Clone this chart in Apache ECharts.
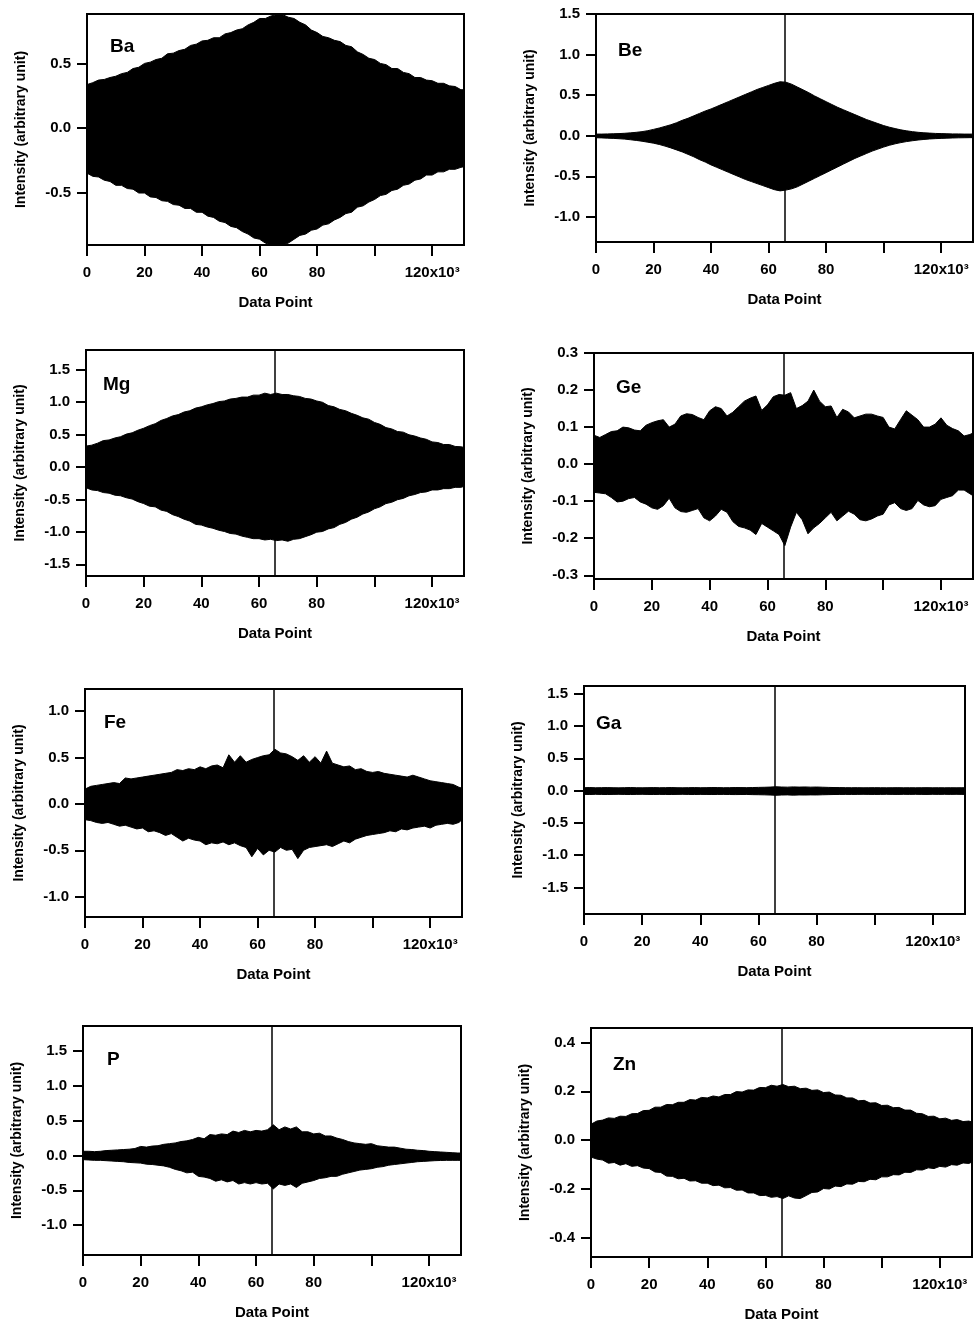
<!DOCTYPE html>
<html>
<head>
<meta charset="utf-8">
<script src="https://cdn.jsdelivr.net/npm/echarts@6/dist/echarts.min.js"></script>
<style>
  html, body { margin: 0; padding: 0; background: #fff; }
  #main { width: 979px; height: 1327px; }
</style>
</head>
<body>
<div id="main"></div>
<script>
// x positions of the envelope samples, in thousands of data points
var dataPointK = [0, 2, 4, 6, 8, 10, 12, 14, 16, 18,
  20, 22, 24, 26, 28, 30, 32, 34, 36, 38,
  40, 42, 44, 46, 48, 50, 52, 54, 56, 58,
  60, 62, 64, 66, 68, 70, 72, 74, 76, 78,
  80, 82, 84, 86, 88, 90, 92, 94, 96, 98,
  100, 102, 104, 106, 108, 110, 112, 114, 116, 118,
  120, 122, 124, 126, 128, 130, 131.072];

var elements = ['Ba', 'Be', 'Mg', 'Ge', 'Fe', 'Ga', 'P', 'Zn'];
var centerBurst = 65536;

// upper / lower envelope of every interferogram
var baUpper = [0.34, 0.355, 0.375, 0.38, 0.395, 0.405, 0.425, 0.435, 0.465, 0.475,
  0.505, 0.515, 0.535, 0.545, 0.58, 0.585, 0.605, 0.615, 0.645, 0.655,
  0.68, 0.685, 0.705, 0.705, 0.735, 0.745, 0.765, 0.775, 0.805, 0.825,
  0.855, 0.855, 0.875, 0.885, 0.885, 0.865, 0.855, 0.825, 0.805, 0.765,
  0.745, 0.715, 0.705, 0.685, 0.675, 0.645, 0.635, 0.595, 0.575, 0.545,
  0.535, 0.505, 0.495, 0.465, 0.465, 0.435, 0.425, 0.395, 0.395, 0.375,
  0.37, 0.35, 0.35, 0.33, 0.325, 0.30, 0.30];
var baLower = [-0.35, -0.375, -0.38, -0.405, -0.415, -0.445, -0.445, -0.47, -0.475, -0.505,
  -0.505, -0.535, -0.54, -0.565, -0.57, -0.595, -0.60, -0.625, -0.625, -0.655,
  -0.655, -0.685, -0.695, -0.725, -0.735, -0.765, -0.775, -0.805, -0.825, -0.855,
  -0.865, -0.895, -0.91, -0.91, -0.91, -0.895, -0.865, -0.835, -0.825, -0.795,
  -0.785, -0.755, -0.745, -0.715, -0.695, -0.665, -0.655, -0.615, -0.605, -0.575,
  -0.555, -0.525, -0.515, -0.485, -0.475, -0.445, -0.435, -0.405, -0.395, -0.365,
  -0.365, -0.34, -0.34, -0.32, -0.32, -0.305, -0.30];

var beUpper = [0.02, 0.02, 0.022, 0.024, 0.026, 0.03, 0.035, 0.042, 0.05, 0.062,
  0.078, 0.095, 0.115, 0.135, 0.16, 0.19, 0.215, 0.245, 0.275, 0.305,
  0.33, 0.36, 0.39, 0.42, 0.45, 0.48, 0.51, 0.54, 0.57, 0.595,
  0.62, 0.645, 0.665, 0.66, 0.635, 0.60, 0.565, 0.53, 0.49, 0.455,
  0.42, 0.385, 0.35, 0.32, 0.29, 0.26, 0.23, 0.20, 0.175, 0.15,
  0.125, 0.105, 0.088, 0.072, 0.06, 0.05, 0.042, 0.036, 0.032, 0.028,
  0.026, 0.024, 0.022, 0.022, 0.02, 0.02, 0.02];
var beLower = [-0.025, -0.027, -0.03, -0.033, -0.037, -0.042, -0.05, -0.058, -0.068, -0.08,
  -0.092, -0.108, -0.128, -0.15, -0.175, -0.2, -0.23, -0.26, -0.295, -0.325,
  -0.36, -0.39, -0.42, -0.45, -0.48, -0.51, -0.54, -0.565, -0.59, -0.615,
  -0.64, -0.665, -0.68, -0.67, -0.655, -0.63, -0.595, -0.56, -0.525, -0.49,
  -0.455, -0.42, -0.385, -0.35, -0.315, -0.28, -0.25, -0.22, -0.19, -0.165,
  -0.14, -0.118, -0.1, -0.085, -0.072, -0.062, -0.053, -0.046, -0.04, -0.036,
  -0.033, -0.03, -0.028, -0.026, -0.025, -0.024, -0.024];

var mgUpper = [0.32, 0.335, 0.365, 0.405, 0.415, 0.445, 0.465, 0.505, 0.525, 0.565,
  0.595, 0.635, 0.665, 0.715, 0.745, 0.785, 0.805, 0.845, 0.865, 0.905,
  0.925, 0.955, 0.975, 1.005, 1.015, 1.045, 1.055, 1.075, 1.075, 1.105,
  1.105, 1.135, 1.115, 1.135, 1.115, 1.115, 1.095, 1.085, 1.055, 1.045,
  1.015, 0.995, 0.945, 0.925, 0.885, 0.865, 0.825, 0.795, 0.755, 0.735,
  0.685, 0.655, 0.605, 0.585, 0.545, 0.535, 0.495, 0.475, 0.445, 0.425,
  0.385, 0.375, 0.345, 0.345, 0.315, 0.31, 0.30];
var mgLower = [-0.32, -0.355, -0.365, -0.395, -0.405, -0.435, -0.445, -0.475, -0.495, -0.535,
  -0.565, -0.605, -0.615, -0.665, -0.685, -0.735, -0.765, -0.805, -0.835, -0.885,
  -0.895, -0.925, -0.945, -0.975, -0.995, -1.025, -1.035, -1.065, -1.085, -1.105,
  -1.105, -1.125, -1.115, -1.135, -1.125, -1.145, -1.115, -1.105, -1.075, -1.045,
  -1.005, -0.995, -0.955, -0.935, -0.885, -0.855, -0.805, -0.775, -0.725, -0.695,
  -0.645, -0.615, -0.565, -0.545, -0.505, -0.485, -0.445, -0.425, -0.395, -0.385,
  -0.355, -0.355, -0.335, -0.335, -0.315, -0.315, -0.30];

var geUpper = [0.078, 0.072, 0.08, 0.088, 0.09, 0.10, 0.098, 0.092, 0.09, 0.105,
  0.112, 0.117, 0.12, 0.10, 0.108, 0.13, 0.136, 0.134, 0.126, 0.12,
  0.144, 0.155, 0.15, 0.13, 0.14, 0.155, 0.17, 0.178, 0.184, 0.145,
  0.16, 0.182, 0.188, 0.186, 0.193, 0.15, 0.158, 0.17, 0.2, 0.17,
  0.155, 0.157, 0.126, 0.148, 0.141, 0.125, 0.13, 0.135, 0.135, 0.13,
  0.126, 0.10, 0.095, 0.12, 0.144, 0.132, 0.12, 0.10, 0.10, 0.108,
  0.125, 0.105, 0.096, 0.09, 0.076, 0.08, 0.084];
var geLower = [-0.076, -0.078, -0.08, -0.09, -0.102, -0.10, -0.093, -0.09, -0.102, -0.108,
  -0.118, -0.122, -0.112, -0.092, -0.118, -0.128, -0.13, -0.125, -0.12, -0.145,
  -0.153, -0.14, -0.122, -0.13, -0.155, -0.168, -0.172, -0.178, -0.19, -0.16,
  -0.17, -0.18, -0.19, -0.22, -0.17, -0.13, -0.15, -0.188, -0.172, -0.16,
  -0.145, -0.13, -0.153, -0.14, -0.127, -0.135, -0.15, -0.153, -0.148, -0.14,
  -0.135, -0.11, -0.104, -0.12, -0.125, -0.12, -0.098, -0.11, -0.115, -0.112,
  -0.095, -0.09, -0.085, -0.07, -0.07, -0.08, -0.085];

var feUpper = [0.16, 0.19, 0.20, 0.21, 0.22, 0.23, 0.22, 0.28, 0.27, 0.28,
  0.29, 0.30, 0.31, 0.32, 0.33, 0.34, 0.37, 0.36, 0.38, 0.37,
  0.40, 0.38, 0.41, 0.42, 0.39, 0.53, 0.45, 0.52, 0.45, 0.48,
  0.50, 0.52, 0.53, 0.59, 0.55, 0.54, 0.51, 0.47, 0.52, 0.45,
  0.51, 0.44, 0.57, 0.44, 0.42, 0.40, 0.41, 0.37, 0.38, 0.35,
  0.34, 0.35, 0.33, 0.32, 0.31, 0.30, 0.29, 0.31, 0.29, 0.27,
  0.25, 0.24, 0.23, 0.22, 0.21, 0.18, 0.17];
var feLower = [-0.17, -0.18, -0.20, -0.21, -0.20, -0.22, -0.24, -0.23, -0.25, -0.27,
  -0.26, -0.30, -0.29, -0.31, -0.34, -0.32, -0.36, -0.40, -0.37, -0.39,
  -0.40, -0.44, -0.42, -0.43, -0.41, -0.44, -0.42, -0.45, -0.47, -0.57,
  -0.48, -0.55, -0.50, -0.52, -0.47, -0.50, -0.49, -0.59, -0.50, -0.47,
  -0.46, -0.45, -0.44, -0.46, -0.43, -0.40, -0.42, -0.38, -0.36, -0.34,
  -0.33, -0.32, -0.31, -0.29, -0.30, -0.27, -0.28, -0.26, -0.25, -0.24,
  -0.26, -0.23, -0.22, -0.21, -0.22, -0.20, -0.17];

var gaUpper = [0.045, 0.048, 0.044, 0.046, 0.047, 0.045, 0.043, 0.046, 0.048, 0.045,
  0.044, 0.046, 0.047, 0.045, 0.046, 0.048, 0.045, 0.044, 0.046, 0.047,
  0.045, 0.046, 0.048, 0.047, 0.045, 0.046, 0.048, 0.047, 0.046, 0.048,
  0.05, 0.052, 0.055, 0.06, 0.056, 0.054, 0.058, 0.055, 0.057, 0.054,
  0.056, 0.053, 0.05, 0.048, 0.047, 0.046, 0.045, 0.046, 0.044, 0.045,
  0.046, 0.045, 0.044, 0.045, 0.046, 0.044, 0.045, 0.044, 0.045, 0.046,
  0.044, 0.045, 0.044, 0.045, 0.044, 0.045, 0.045];
var gaLower = [-0.058, -0.06, -0.057, -0.059, -0.06, -0.058, -0.057, -0.059, -0.06, -0.058,
  -0.057, -0.059, -0.06, -0.058, -0.059, -0.06, -0.058, -0.057, -0.059, -0.06,
  -0.058, -0.059, -0.06, -0.059, -0.058, -0.06, -0.061, -0.06, -0.059, -0.062,
  -0.063, -0.065, -0.068, -0.072, -0.068, -0.066, -0.07, -0.067, -0.068, -0.066,
  -0.067, -0.064, -0.062, -0.06, -0.059, -0.058, -0.059, -0.058, -0.057, -0.058,
  -0.059, -0.058, -0.057, -0.058, -0.059, -0.057, -0.058, -0.057, -0.058, -0.059,
  -0.057, -0.058, -0.057, -0.058, -0.057, -0.058, -0.058];

var pUpper = [0.06, 0.06, 0.055, 0.06, 0.07, 0.075, 0.08, 0.085, 0.09, 0.10,
  0.13, 0.12, 0.135, 0.14, 0.16, 0.17, 0.18, 0.20, 0.21, 0.23,
  0.26, 0.24, 0.30, 0.29, 0.31, 0.30, 0.35, 0.33, 0.36, 0.34,
  0.36, 0.35, 0.37, 0.44, 0.37, 0.41, 0.38, 0.41, 0.34, 0.34,
  0.31, 0.32, 0.28, 0.28, 0.25, 0.23, 0.20, 0.18, 0.17, 0.16,
  0.17, 0.14, 0.13, 0.12, 0.12, 0.105, 0.09, 0.085, 0.075, 0.07,
  0.06, 0.055, 0.05, 0.045, 0.04, 0.035, 0.035];
var pLower = [-0.06, -0.065, -0.07, -0.07, -0.075, -0.08, -0.085, -0.09, -0.10, -0.105,
  -0.11, -0.125, -0.13, -0.14, -0.15, -0.17, -0.20, -0.22, -0.25, -0.24,
  -0.30, -0.31, -0.33, -0.37, -0.35, -0.38, -0.36, -0.41, -0.39, -0.41,
  -0.39, -0.41, -0.40, -0.48, -0.41, -0.43, -0.41, -0.46, -0.40, -0.38,
  -0.36, -0.33, -0.32, -0.30, -0.30, -0.27, -0.25, -0.23, -0.21, -0.20,
  -0.19, -0.17, -0.16, -0.14, -0.13, -0.12, -0.11, -0.10, -0.09, -0.085,
  -0.08, -0.075, -0.072, -0.07, -0.07, -0.07, -0.07];

var znUpper = [0.065, 0.078, 0.082, 0.091, 0.089, 0.098, 0.097, 0.108, 0.109, 0.121,
  0.122, 0.135, 0.135, 0.146, 0.145, 0.155, 0.155, 0.166, 0.164, 0.175,
  0.173, 0.181, 0.177, 0.187, 0.187, 0.199, 0.197, 0.206, 0.205, 0.216,
  0.215, 0.225, 0.221, 0.228, 0.219, 0.221, 0.211, 0.213, 0.204, 0.206,
  0.195, 0.197, 0.185, 0.184, 0.173, 0.173, 0.161, 0.163, 0.152, 0.153,
  0.142, 0.143, 0.133, 0.134, 0.123, 0.123, 0.11, 0.108, 0.097, 0.098,
  0.087, 0.09, 0.081, 0.084, 0.076, 0.078, 0.074];
var znLower = [-0.07, -0.078, -0.082, -0.095, -0.092, -0.103, -0.097, -0.108, -0.105, -0.115,
  -0.117, -0.131, -0.133, -0.148, -0.149, -0.159, -0.157, -0.168, -0.167, -0.177,
  -0.177, -0.187, -0.185, -0.196, -0.195, -0.206, -0.205, -0.217, -0.217, -0.228,
  -0.227, -0.235, -0.232, -0.24, -0.229, -0.238, -0.24, -0.228, -0.215, -0.213,
  -0.199, -0.201, -0.189, -0.191, -0.18, -0.181, -0.17, -0.171, -0.161, -0.163,
  -0.151, -0.151, -0.142, -0.143, -0.132, -0.133, -0.122, -0.123, -0.114, -0.117,
  -0.108, -0.111, -0.101, -0.103, -0.094, -0.096, -0.09];

var uppers = [baUpper, beUpper, mgUpper, geUpper, feUpper, gaUpper, pUpper, znUpper];
var lowers = [baLower, beLower, mgLower, geLower, feLower, gaLower, pLower, znLower];

// y axis extents and tick values
var yMin = [-0.91, -1.31, -1.68, -0.31, -1.22, -1.91, -1.43, -0.48];
var yMax = [0.89, 1.5, 1.80, 0.30, 1.24, 1.62, 1.86, 0.46];
var yTicks = [
  [-0.5, 0, 0.5],
  [-1, -0.5, 0, 0.5, 1, 1.5],
  [-1.5, -1, -0.5, 0, 0.5, 1, 1.5],
  [-0.3, -0.2, -0.1, 0, 0.1, 0.2, 0.3],
  [-1, -0.5, 0, 0.5, 1],
  [-1.5, -1, -0.5, 0, 0.5, 1, 1.5],
  [-1, -0.5, 0, 0.5, 1, 1.5],
  [-0.4, -0.2, 0, 0.2, 0.4]
];
var xTicks = [0, 20000, 40000, 60000, 80000, 100000, 120000];
var xLabels = [0, 20000, 40000, 60000, 80000, 120000];

// panel layout [left, top, width, height] and element label position
var panels = [
  [87, 14, 377, 231], [596, 14, 377, 228],
  [86, 350, 378, 226], [594, 353, 379, 226],
  [85, 689, 377, 228], [584, 686, 381, 228],
  [83, 1026, 378, 229], [591, 1028, 381, 229]
];
var labelPos = [
  [110, 37], [618, 41], [103, 375], [616, 378],
  [104, 713], [596, 714], [107, 1050], [613, 1055]
];

var FONT = '"Liberation Sans", Arial, sans-serif';
var black = '#000';

function pairs(vals) {
  return dataPointK.map(function (k, i) { return [k * 1000, vals[i]]; });
}

var myChart = echarts.init(document.getElementById('main'));

var grids = [], xAxes = [], yAxes = [], series = [], titles = [];
for (var i = 0; i < elements.length; i++) {
  var p = panels[i];
  grids.push({
    left: p[0], top: p[1], width: p[2], height: p[3],
    show: true, borderColor: black, borderWidth: 2
  });
  xAxes.push({
    gridIndex: i, type: 'value', min: 0, max: 131072,
    axisLine: { show: true, onZero: false, lineStyle: { color: black, width: 2 } },
    axisTick: { show: true, length: 11, customValues: xTicks, lineStyle: { color: black, width: 2 } },
    axisLabel: {
      customValues: xLabels, margin: 20, color: black, fontSize: 15,
      fontWeight: 'bold', fontFamily: FONT,
      formatter: function (v) { return v === 120000 ? '120x10\u00b3' : String(v / 1000); }
    },
    splitLine: { show: false },
    name: 'Data Point', nameLocation: 'middle', nameGap: 50,
    nameTextStyle: { color: black, fontSize: 15, fontWeight: 'bold', fontFamily: FONT }
  });
  yAxes.push({
    gridIndex: i, type: 'value', min: yMin[i], max: yMax[i],
    axisLine: { show: true, onZero: false, lineStyle: { color: black, width: 2 } },
    axisTick: { show: true, length: 10, customValues: yTicks[i], lineStyle: { color: black, width: 2 } },
    axisLabel: {
      customValues: yTicks[i], margin: 16, color: black, fontSize: 15,
      fontWeight: 'bold', fontFamily: FONT,
      formatter: function (v) { return v.toFixed(1); }
    },
    splitLine: { show: false },
    name: 'Intensity (arbitrary unit)', nameLocation: 'middle', nameGap: 59,
    nameTextStyle: { color: black, fontSize: 14, fontWeight: 'bold', fontFamily: FONT }
  });
  titles.push({
    text: elements[i], left: labelPos[i][0], top: labelPos[i][1], padding: 0,
    textStyle: { color: black, fontSize: 19, fontWeight: 'bold', fontFamily: FONT }
  });
  // upper half of the envelope, filled down to zero; carries the centre-burst line
  series.push({
    type: 'line', xAxisIndex: i, yAxisIndex: i, data: pairs(uppers[i]),
    showSymbol: false, silent: true,
    lineStyle: { color: black, width: 1 },
    areaStyle: { color: black, opacity: 1, origin: 'auto' },
    markLine: {
      silent: true, symbol: ['none', 'none'], label: { show: false },
      lineStyle: { color: black, width: 1.5, type: 'solid' },
      data: [{ xAxis: centerBurst }]
    }
  });
  // lower half of the envelope; a zero line closes the seam between both halves
  series.push({
    type: 'line', xAxisIndex: i, yAxisIndex: i, data: pairs(lowers[i]),
    showSymbol: false, silent: true,
    lineStyle: { color: black, width: 1 },
    areaStyle: { color: black, opacity: 1, origin: 'auto' },
    markLine: {
      silent: true, symbol: ['none', 'none'], label: { show: false },
      lineStyle: { color: black, width: 2, type: 'solid' },
      data: [{ yAxis: 0 }]
    }
  });
}

option = {
  animation: false,
  backgroundColor: '#fff',
  title: titles,
  grid: grids,
  xAxis: xAxes,
  yAxis: yAxes,
  series: series
};

myChart.setOption(option);
</script>
</body>
</html>
